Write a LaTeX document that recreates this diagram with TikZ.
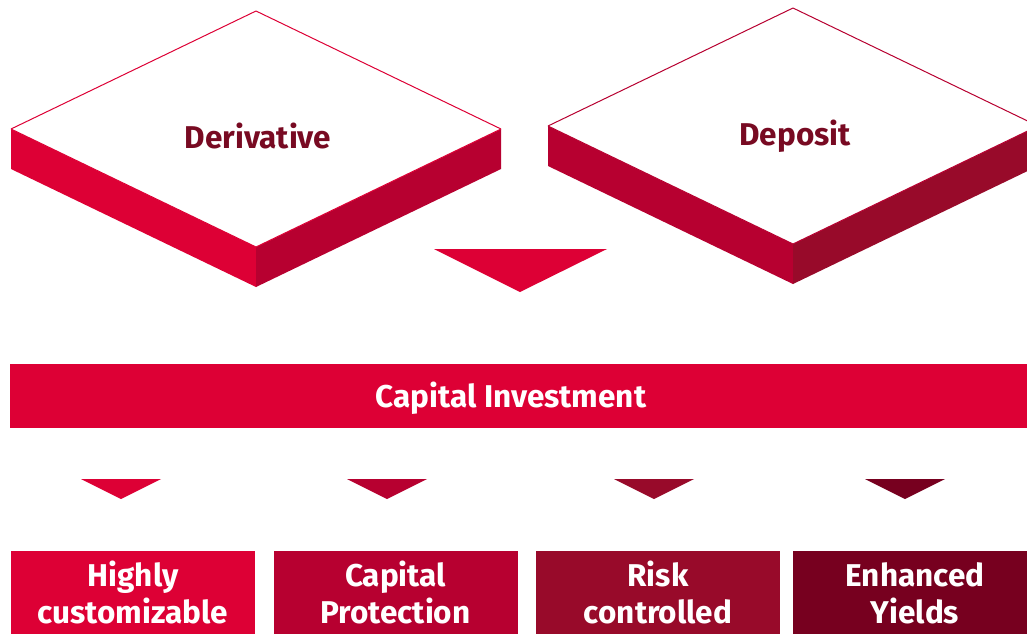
\documentclass[tikz,border=0pt]{standalone}
\usepackage{fontspec}
\setmainfont{Fira Sans}
\usetikzlibrary{calc}
\definecolor{Rone}{HTML}{DD0035}
\definecolor{Rtwo}{HTML}{B70030}
\definecolor{Rthree}{HTML}{980A2A}
\definecolor{Rfour}{HTML}{77001F}
\definecolor{Rtext}{HTML}{780A22}
\tikzset{%
    Dtop/.style={fill=white, draw=#1, line width=1pt, line join=bevel}, Dtop/.default={Rone},
    Dtext/.style={inner sep=0pt, align=center, anchor=base, text=#1,
        font=\bfseries\fontsize{31.5}{37}\selectfont}, Dtext/.default={white},
    Dbar/.style={fill=#1, inner sep=0pt}, Dbar/.default={Rone},
    Darrow/.style={fill=#1}, Darrow/.default={Rone}
}
\newcommand{\slab}[6]{
    % corners of the top face
    \path
        (#2,#3) coordinate (#1N)
        (#2-245,#3+118) coordinate (#1W)
        (#2+245,#3+118) coordinate (#1E)
        (#2,#3+236) coordinate (#1S);

    % the two visible sides
    \fill [#4] (#1W) -- (#1S) -- ($(#1S)+(0,40)$) -- ($(#1W)+(0,40)$) -- cycle;
    \fill [#5] (#1S) -- (#1E) -- ($(#1E)+(0,40)$) -- ($(#1S)+(0,40)$) -- cycle;

    % top face and its label
    \draw [Dtop=#4] (#1N) -- (#1E) -- (#1S) -- (#1W) -- cycle;
    \node [Dtext=Rtext] (#1L) at ($(#1W)!0.5!(#1E)+(2,19)$) {#6};
}

\begin{document}
\begin{tikzpicture}[x=1pt,y=-1pt]
    \useasboundingbox (0,0) rectangle (1027,633);

    \slab{Nder}{256}{11}{Rone}{Rtwo}{Derivative}
    \slab{Ndep}{793}{8}{Rtwo}{Rthree}{Deposit}

    % arrow down into the bar
    \fill [Darrow] (434,249) -- (607,249) -- (520,292) -- cycle;

    \node [Dbar, minimum width=1017pt, minimum height=64pt] (Ncap) at (518.5,396) {};
    \node [Dtext] (NcapT) at (511,407) {Capital Investment};

    \foreach \n/\cx/\ax/\col/\txt in
            {Nhig/133/121/Rone/{Highly\\customizable},
             Npro/395.5/387/Rtwo/{Capital\\Protection},
             Nris/658/654/Rthree/{Risk\\controlled},
             Nyie/915/905/Rfour/{Enhanced\\Yields}}
    {
        \fill [Darrow=\col] (\ax-40,479) -- (\ax+40,479) -- (\ax,499) -- cycle;
        \node [Dbar=\col, minimum width=244pt, minimum height=90pt, anchor=north]
            (\n) at (\cx,551) {};
        \node [Dtext] (\n T) at (\cx,623) {\txt};
    }
\end{tikzpicture}
\end{document}
